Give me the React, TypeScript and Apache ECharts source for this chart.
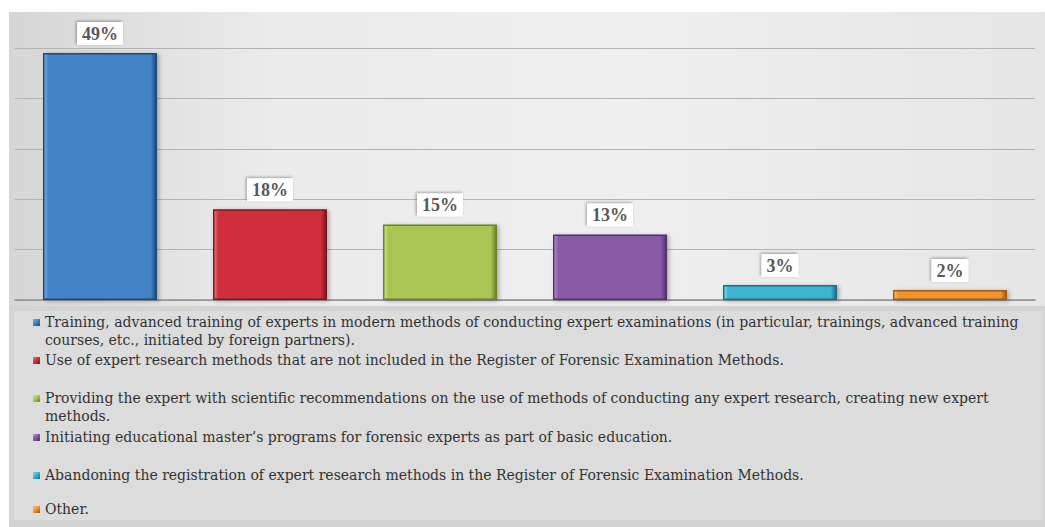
import React, { useEffect, useRef } from "react";
import * as echarts from "echarts";

const categories = [
  "Training, advanced training of experts in modern methods of conducting expert examinations (in particular, trainings, advanced training courses, etc., initiated by foreign partners).",
  "Use of expert research methods that are not included in the Register of Forensic Examination Methods.",
  "Providing the expert with scientific recommendations on the use of methods of conducting any expert research, creating new expert methods.",
  "Initiating educational master’s programs for forensic experts as part of basic education.",
  "Abandoning the registration of expert research methods in the Register of Forensic Examination Methods.",
  "Other.",
];
const values = [49, 18, 15, 13, 3, 2];
const barColors = ["#4284c6", "#d02f3e", "#a9c553", "#8a5aa7", "#3cb4d0", "#f1962f"];
const barDarkColors = ["#1b4a80", "#7e1822", "#6a8526", "#53336b", "#1b7188", "#a25a14"];
const barLightColors = ["#7fb0e2", "#ec7a84", "#cfe38e", "#b892cf", "#8bdcef", "#f9c27f"];
const yTicks = [0, 10, 20, 30, 40, 50];

// layout only
const legendWrapAfter = ["advanced training", "", "new expert", "", "", ""];
const legendBaselines = [327, 365, 403, 442, 480, 514];

const wrap = (s: string, after: string) => {
  if (!after) return s;
  const i = s.lastIndexOf(after);
  if (i < 0) return s;
  const j = i + after.length;
  return s.slice(0, j) + "\n" + s.slice(j).trimStart();
};

export default function App() {
  const ref = useRef<HTMLDivElement>(null);
  useEffect(() => {
    if (!ref.current) return;
    const chart = echarts.init(ref.current, undefined, { renderer: "svg" });

    const legendGraphics: any[] = [];
    categories.forEach((c, i) => {
      const base = legendBaselines[i];
      legendGraphics.push({
        type: "rect",
        shape: { x: 33, y: base - 8, width: 7, height: 7 },
        style: {
          fill: new echarts.graphic.LinearGradient(0, 0, 1, 1, [
            { offset: 0, color: barLightColors[i] },
            { offset: 0.45, color: barColors[i] },
            { offset: 1, color: barDarkColors[i] },
          ]),
        },
        z: 5,
      });
      legendGraphics.push({
        type: "text",
        x: 45,
        y: base - 14,
        style: {
          text: wrap(c, legendWrapAfter[i]),
          fontFamily: "DejaVu Serif",
          fontSize: 14,
          lineHeight: 18,
          fill: "#333333",
          verticalAlign: "top",
        },
        z: 5,
      });
    });

    chart.setOption({
      animation: false,
      backgroundColor: "#ffffff",
      grid: { left: 15, right: 10, top: 48, bottom: 227, containLabel: false },
      xAxis: {
        type: "category",
        data: categories,
        axisLine: { show: true, lineStyle: { color: "#8e8e8e", width: 1.5 } },
        axisTick: { show: false },
        axisLabel: { show: false },
      },
      yAxis: {
        type: "value",
        min: yTicks[0],
        max: yTicks[yTicks.length - 1],
        interval: yTicks[1] - yTicks[0],
        axisLabel: { show: false },
        axisLine: { show: false },
        axisTick: { show: false },
        splitLine: { show: true, lineStyle: { color: "#b3b3b3", width: 1 } },
      },
      graphic: [
        {
          type: "rect",
          shape: { x: 9, y: 12, width: 1036, height: 296 },
          style: {
            fill: new echarts.graphic.LinearGradient(0, 0, 1, 0, [
              { offset: 0, color: "#d6d6d6" },
              { offset: 0.25, color: "#ebebeb" },
              { offset: 0.6, color: "#efefef" },
              { offset: 1, color: "#e6e6e6" },
            ]),
          },
          z: -10,
        },
        {
          type: "rect",
          shape: { x: 9, y: 306, width: 1036, height: 221 },
          style: { fill: "#d3d3d3" },
          z: -10,
        },
        {
          type: "rect",
          shape: { x: 14, y: 311, width: 1029, height: 209 },
          style: { fill: "#dcdcdc" },
          z: -9,
        },
        {
          type: "line",
          shape: { x1: 20, y1: 310.5, x2: 1043, y2: 310.5 },
          style: { stroke: "#6e6e6e", lineWidth: 1.5, shadowBlur: 3, shadowColor: "rgba(0,0,0,0.35)", shadowOffsetY: 1 },
          z: -8,
        },
        ...legendGraphics,
      ],
      series: [
        {
          type: "bar",
          barWidth: 114,
          data: values.map((v, i) => ({
            value: v,
            itemStyle: {
              color: new echarts.graphic.LinearGradient(0, 0, 1, 0, [
                { offset: 0, color: barLightColors[i] },
                { offset: 0.04, color: barColors[i] },
                { offset: 0.95, color: barColors[i] },
                { offset: 1, color: barDarkColors[i] },
              ]),
              borderColor: barDarkColors[i],
              borderWidth: 1.5,
              shadowBlur: 4,
              shadowColor: "rgba(0,0,0,0.3)",
              shadowOffsetX: 2,
              shadowOffsetY: 1,
            },
          })),
          label: {
            show: true,
            position: "top",
            distance: 8,
            formatter: "{c}%",
            fontFamily: "Liberation Serif",
            fontWeight: "bold",
            fontSize: 18,
            lineHeight: 18,
            color: "#595959",
            backgroundColor: "#ffffff",
            padding: [3, 5, 2, 5],
            shadowBlur: 3,
            shadowColor: "rgba(0,0,0,0.35)",
            shadowOffsetX: -1,
            shadowOffsetY: -1,
          },
        },
      ],
    });
    return () => chart.dispose();
  }, []);
  return (
    <div
      ref={ref}
      style={{ position: "absolute", left: 0, top: 0, width: 1045, height: 527 }}
    />
  );
}
